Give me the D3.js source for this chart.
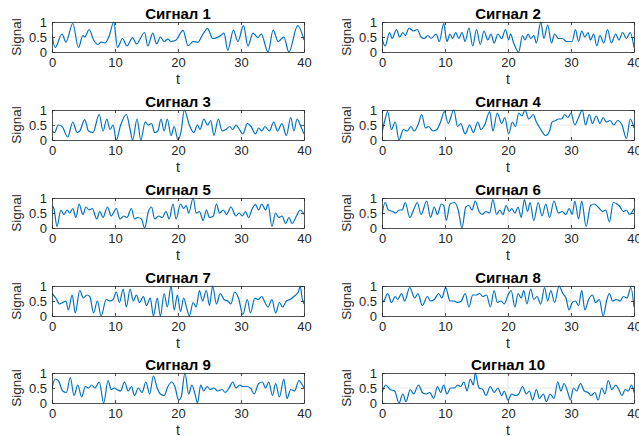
<!DOCTYPE html>
<html>
<head>
<meta charset="utf-8">
<script src="https://cdn.jsdelivr.net/npm/d3@7"></script>
<style>
  body { margin: 0; background: #fff; }
  svg { display: block; font-family: "Liberation Sans", Arial, sans-serif; }
</style>
</head>
<body>
<div id="general"></div>
<script>
const w = 639, h = 436;

const titles = ["Сигнал 1", "Сигнал 2", "Сигнал 3", "Сигнал 4", "Сигнал 5",
                "Сигнал 6", "Сигнал 7", "Сигнал 8", "Сигнал 9", "Сигнал 10"];
const xTicks = [0, 10, 20, 30, 40];
const yTicks = [0, 0.5, 1];
const yTickLabels = ["0", "0.5", "1"];

// [t, value] (peaks and troughs mostly)
const signal1 = [[0,0.57],[0.5,0.15],[1.6,0.6],[2.2,0.33],[3.3,0.95],[4.2,0.15],[4.9,0.55],[5.2,0.5],[5.9,0.75],[6.6,0.4],[7.3,0.25],[7.8,0.33],[8.4,0.3],[9.1,0.55],[9.8,1.0],[10.4,0.15],[11.2,0.45],[11.9,0.2],[12.8,0.48],[13.4,0.27],[14.7,0.65],[15.2,0.2],[16,0.63],[16.6,0.27],[17.2,0.5],[17.8,0.35],[18.4,0.43],[18.9,0.35],[19.7,0.4],[20.8,0.72],[21.6,0.2],[22.4,0.35],[23.2,0.33],[23.7,0.5],[24.7,0.78],[25.5,0.45],[26.2,0.48],[26.9,0.57],[27.3,0.63],[27.9,0.06],[28.8,0.73],[29.5,0.35],[30.4,0.88],[31.1,0.2],[31.9,0.63],[32.7,0.48],[33.2,0.6],[34.3,0.0],[35.1,0.73],[35.9,0.35],[36.8,0.5],[37.6,0.0],[39,0.88],[40,0.4]];
const signal2 = [[0,0.45],[0.5,0.2],[1.2,0.65],[1.6,0.45],[2.3,0.75],[2.8,0.5],[3.3,0.65],[3.7,0.55],[4.3,0.8],[5,0.7],[5.6,0.75],[6.2,0.5],[6.7,0.45],[7.3,0.55],[7.8,0.45],[8.6,0.6],[9.1,0.35],[9.8,0.95],[10.3,0.35],[10.8,0.6],[11.2,0.45],[11.7,0.65],[12.2,0.45],[12.7,0.65],[13.2,0.35],[13.8,0.8],[14.4,0.2],[15,0.75],[15.6,0.25],[16.2,0.7],[16.8,0.4],[17.3,0.6],[17.8,0.3],[18.4,0.6],[19,0.45],[19.6,0.75],[20.1,0.4],[20.4,0.6],[20.9,0.3],[21.7,0.0],[22.3,0.55],[22.7,0.4],[23.2,0.6],[23.6,0.45],[24.1,0.55],[24.5,0.3],[25.2,1.0],[25.7,0.45],[26.3,0.9],[26.9,0.3],[27.4,0.6],[28,0.45],[28.6,0.45],[29.3,0.35],[30.2,0.35],[30.7,0.75],[31.2,0.35],[31.7,0.7],[32.2,0.5],[32.7,0.65],[33.1,0.4],[33.6,0.6],[34.1,0.2],[34.6,0.55],[35.2,0.3],[35.8,0.75],[36.4,0.3],[37.1,0.6],[37.6,0.4],[38.2,0.65],[38.8,0.45],[39.4,0.65],[40,0.15]];
const signal3 = [[0,0.3],[0.4,0.25],[1,0.5],[1.6,0.45],[2.5,0.1],[3.3,0.6],[4,0.25],[4.4,0.3],[5.2,0.68],[5.8,0.3],[6.5,0.25],[7.5,0.85],[8.1,0.3],[8.7,0.7],[9.2,0.35],[9.7,0.5],[10.2,0.0],[10.9,0.5],[11.8,0.85],[12.4,0.35],[12.8,0.0],[13.5,0.7],[14.1,0.0],[14.8,0.6],[15.3,0.5],[15.8,0.55],[16.3,0.25],[16.8,0.3],[17.3,0.7],[17.8,0.3],[18.3,0.7],[18.9,0.15],[19.4,0.45],[20,0.0],[20.5,0.3],[21,1.0],[21.8,0.5],[22.5,0.25],[23.1,0.5],[23.5,0.35],[24.1,0.7],[24.7,0.5],[25.2,0.65],[25.7,0.15],[26.4,0.7],[27,0.3],[27.6,0.35],[28.2,0.45],[28.7,0.35],[29.2,0.5],[29.6,0.4],[30.3,0.2],[31,0.55],[31.6,0.45],[32.3,0.2],[32.8,0.4],[33.3,0.3],[33.8,0.45],[34.5,0.3],[35.2,0.6],[35.8,0.3],[36.5,0.55],[37.2,0.15],[37.9,0.75],[38.4,0.3],[38.9,0.7],[39.4,0.5],[40,0.2]];
const signal4 = [[0,0.25],[0.5,0.7],[0.9,0.95],[1.5,0.35],[2.1,0.6],[2.7,0.0],[3.4,0.35],[4,0.3],[4.6,0.45],[5.1,0.3],[5.8,0.55],[6.3,0.85],[6.9,0.4],[7.4,0.45],[8.1,0.3],[8.7,0.35],[9.3,0.6],[9.9,0.95],[10.5,0.55],[11.4,1.0],[12,0.45],[12.5,0.55],[13.2,0.2],[13.9,0.5],[14.5,0.25],[15.2,0.6],[15.7,0.35],[16.3,0.5],[17.1,0.95],[17.6,0.3],[18.3,0.9],[19,0.55],[19.5,0.75],[20.1,0.2],[20.7,0.6],[21.2,0.45],[21.7,0.9],[22.2,0.8],[22.7,1.0],[23.3,0.7],[24,0.85],[24.5,0.6],[25.2,0.35],[26,0.15],[26.6,0.3],[27,0.6],[27.6,0.65],[28,0.7],[28.5,0.7],[29,0.85],[29.5,0.75],[30,0.9],[30.6,0.5],[31.2,0.75],[31.8,1.0],[32.3,0.5],[32.9,0.85],[33.4,0.55],[34,0.8],[34.6,0.55],[35.1,0.75],[35.6,0.6],[36.2,0.65],[36.8,0.5],[37.4,0.65],[38.1,0.5],[38.8,0.05],[39.4,0.7],[40,0.4]];
const signal5 = [[0,0.75],[0.3,0.65],[0.8,0.05],[1.4,0.6],[1.9,0.45],[2.4,0.6],[2.8,0.5],[3.3,0.65],[3.8,0.35],[4.3,0.8],[4.9,0.45],[5.4,0.7],[5.9,0.6],[6.4,0.65],[7.1,0.3],[7.6,0.55],[8.1,0.35],[8.8,0.7],[9.4,0.4],[10.2,0.65],[10.8,0.3],[11.4,0.4],[11.9,0.35],[12.6,0.65],[13.1,0.3],[13.6,0.35],[14.2,0.3],[14.7,0.0],[15.3,0.55],[15.8,0.7],[16.3,0.3],[16.9,0.4],[17.5,0.35],[18.1,0.55],[18.6,0.3],[19.2,0.8],[19.7,0.3],[20.4,0.8],[20.9,0.65],[21.3,0.75],[21.7,0.5],[22.4,1.0],[22.9,0.5],[23.4,0.55],[24,0.25],[24.5,0.6],[25,0.35],[25.6,0.4],[26.1,0.8],[26.6,0.5],[27.2,0.6],[27.7,0.45],[28.4,0.7],[29.2,0.4],[29.7,0.5],[30.2,0.4],[30.7,0.55],[31.2,0.35],[31.8,0.65],[32.3,0.78],[32.8,0.6],[33.3,0.8],[33.9,0.6],[34.3,0.8],[34.9,0.05],[35.5,0.5],[36,0.35],[36.5,0.4],[37.1,0.15],[37.6,0.35],[38.1,0.15],[38.8,0.4],[39.4,0.6],[40,0.45]];
const signal6 = [[0,0.45],[0.5,0.85],[1,0.6],[1.7,0.55],[2.2,0.5],[2.7,0.6],[3.2,0.6],[3.7,0.85],[4.4,0.35],[5.1,0.65],[5.6,0.85],[6.2,0.45],[7.1,0.9],[7.7,0.35],[8.3,0.7],[8.8,0.45],[9.4,0.8],[9.8,0.75],[10.2,0.25],[10.8,0.8],[11.5,0.85],[12.1,0.6],[12.7,0.0],[13.3,0.7],[13.8,0.75],[14.3,0.6],[14.8,0.9],[15.4,0.55],[15.9,0.45],[16.5,0.55],[17.1,0.5],[17.6,0.95],[18.2,0.45],[18.7,0.6],[19.2,0.45],[19.7,0.75],[20.2,0.55],[20.6,0.65],[21.1,0.5],[21.6,0.7],[22.1,0.35],[22.6,0.95],[23.1,0.55],[23.5,0.85],[24.1,0.25],[24.8,0.85],[25.4,0.4],[26,0.8],[26.6,0.35],[27.3,0.9],[28,0.5],[28.6,0.55],[29.2,0.45],[29.7,0.65],[30.2,0.45],[30.6,0.9],[31.2,0.3],[31.7,0.9],[32.4,0.05],[33.1,0.75],[33.7,0.8],[34.3,0.7],[35,0.55],[35.5,0.6],[36.1,0.2],[36.7,0.85],[37.3,0.8],[37.8,0.7],[38.3,0.55],[38.8,0.6],[39.3,0.45],[40,0.65]];
const signal7 = [[0,0.75],[0.6,0.6],[1.2,0.4],[1.7,0.45],[2.2,0.5],[2.6,0.2],[3.2,0.7],[3.7,0.1],[4.4,0.85],[5,0.6],[5.5,0.7],[6,0.65],[6.6,0.1],[7.2,0.5],[7.8,0.0],[8.6,0.55],[9.2,0.5],[9.7,0.55],[10.2,0.8],[10.7,0.45],[11.3,0.9],[11.8,0.3],[12.4,0.9],[12.9,0.5],[13.4,0.7],[13.9,0.45],[14.5,0.65],[15,0.35],[15.6,0.6],[16.1,0.0],[16.7,0.6],[17.2,0.0],[17.8,0.75],[18.3,0.3],[18.9,1.0],[19.4,0.2],[19.9,0.7],[20.4,0.15],[20.9,0.6],[21.4,0.25],[21.8,0.0],[22.4,0.45],[22.9,0.3],[23.4,0.85],[23.9,0.5],[24.5,0.85],[25,0.35],[25.5,1.0],[26.1,0.4],[26.7,0.75],[27.3,0.55],[27.9,0.5],[28.4,0.4],[29,0.8],[29.6,0.6],[30.3,0.05],[31,0.55],[31.5,0.1],[32.2,0.6],[32.7,0.55],[33.3,0.65],[33.8,0.45],[34.3,0.3],[34.9,0.55],[35.5,0.1],[36.1,0.45],[36.6,0.3],[37.2,0.5],[37.8,0.55],[38.4,0.65],[39.1,0.8],[39.4,1.0],[39.7,0.6],[40,0.4]];
const signal8 = [[0,0.45],[0.3,0.5],[0.9,0.75],[1.5,0.45],[2.1,0.65],[2.5,0.55],[3.1,0.75],[3.6,0.5],[4.4,0.95],[5.2,0.6],[5.7,0.75],[6.4,0.35],[7.2,0.65],[7.7,0.5],[8.3,0.55],[9,0.75],[9.5,0.6],[10.1,0.95],[10.8,0.5],[11.4,0.5],[12,0.45],[12.6,0.5],[13.2,0.75],[13.8,0.3],[14.4,0.7],[15,0.7],[15.5,0.75],[16,0.65],[16.6,0.7],[17.2,0.3],[17.8,0.85],[18.3,0.45],[18.9,0.5],[19.4,0.4],[20,0.7],[20.5,0.85],[21.1,0.3],[21.6,0.75],[22.1,0.6],[22.5,0.85],[23,0.4],[23.6,0.9],[24.1,0.55],[24.6,0.65],[25.2,0.4],[25.8,0.95],[26.3,0.5],[26.8,0.85],[27.4,0.45],[28.1,1.0],[28.7,0.75],[29.2,0.6],[29.7,0.2],[30.2,0.45],[30.7,0.5],[31.2,0.35],[31.7,0.85],[32.2,0.2],[32.8,0.55],[33.4,0.7],[33.9,0.45],[34.5,0.55],[35.1,0.0],[35.7,0.55],[36.1,0.75],[36.6,0.5],[37.2,0.55],[37.8,0.5],[38.3,0.65],[38.9,0.6],[39.5,0.95],[40,0.3]];
const signal9 = [[0,0.5],[0.5,0.8],[1,0.75],[1.7,0.4],[2.3,0.35],[2.9,0.85],[3.5,0.25],[4.1,0.6],[4.7,0.2],[5.3,0.55],[5.8,0.5],[6.3,0.6],[6.8,0.5],[7.5,0.7],[8.2,0.0],[8.9,0.75],[9.4,0.45],[9.9,0.5],[10.3,0.45],[10.9,0.4],[11.5,0.7],[12.1,0.4],[12.6,0.55],[13.1,0.25],[13.7,0.5],[14.3,0.35],[14.9,0.7],[15.5,0.3],[16.1,0.9],[16.7,0.5],[17.2,0.3],[17.8,0.25],[18.4,0.55],[19,0.7],[19.5,0.55],[20.1,0.1],[20.5,0.2],[21.1,1.0],[21.7,0.3],[22.2,0.6],[22.7,0.3],[23.1,0.0],[23.6,0.6],[24.1,0.4],[24.6,0.55],[25.1,0.45],[25.7,0.5],[26.3,0.4],[27,0.45],[27.5,0.35],[28.1,0.5],[28.7,0.7],[29.2,0.5],[29.8,0.6],[30.3,0.55],[30.9,0.55],[31.5,0.5],[32.1,0.3],[32.8,0.65],[33.4,0.7],[33.9,0.5],[34.4,0.7],[35,0.25],[35.5,0.65],[36.1,0.2],[36.8,0.8],[37.3,0.15],[37.9,0.45],[38.5,0.4],[39.2,0.75],[39.6,0.65],[40,0.5]];
const signal10 = [[0,0.35],[0.6,0.6],[1.3,0.45],[2,0.4],[2.7,0.0],[3.3,0.3],[3.8,0.05],[4.5,0.45],[5,0.3],[5.8,0.6],[6.4,0.35],[7,0.3],[7.6,0.35],[8.2,0.15],[8.8,0.55],[9.3,0.35],[9.8,0.6],[10.3,0.3],[10.9,0.5],[11.5,0.5],[12,0.6],[12.5,0.55],[13,0.7],[13.5,0.4],[14,0.8],[14.5,0.6],[14.8,1.0],[15.4,0.5],[16,0.45],[16.5,0.25],[17.2,0.55],[17.8,0.35],[18.4,0.5],[19,0.25],[19.4,0.4],[20,0.1],[20.6,0.3],[21.2,0.25],[21.7,0.3],[22.3,0.55],[22.9,0.3],[23.4,0.4],[23.9,0.1],[24.5,0.45],[25,0.15],[25.6,0.3],[26.1,0.05],[26.7,0.3],[27.3,0.15],[27.9,0.7],[28.4,0.4],[28.9,0.65],[29.5,0.35],[29.9,0.1],[30.4,0.5],[30.9,0.4],[31.5,0.65],[32.1,0.4],[32.7,0.35],[33.2,0.25],[33.8,0.35],[34.3,0.1],[34.9,0.5],[35.4,0.3],[35.9,0.75],[36.5,0.45],[37.1,0.6],[37.6,0.45],[38.1,0.25],[38.6,0.45],[39.1,0.4],[39.6,0.6],[40,0.35]];

const signals = [signal1, signal2, signal3, signal4, signal5,
                 signal6, signal7, signal8, signal9, signal10];

// subplot grid, MATLAB-ish positions
const colX = [52, 382];
const axW = 252;
const rowY = [22, 110, 198, 286, 373];
const axH = 30;

const svg = d3.select("#general").append("svg")
  .attr("width", w)
  .attr("height", h)
  .attr("viewBox", [0, 0, w, h]);

signals.forEach((data, i) => {
  const col = i % 2, row = Math.floor(i / 2);
  const x = d3.scaleLinear().domain([0, 40]).range([0, axW]);
  const y = d3.scaleLinear().domain([0, 1]).range([axH, 0]);

  const g = svg.append("g").attr("transform", `translate(${colX[col]},${rowY[row]})`);

  // grid
  g.append("g")
    .attr("stroke", "#dfdfdf")
    .attr("stroke-width", 0.8)
    .selectAll("line")
    .data(xTicks.slice(1, -1))
    .join("line")
      .attr("x1", d => x(d)).attr("x2", d => x(d))
      .attr("y1", 0).attr("y2", axH);
  g.append("g")
    .attr("stroke", "#dfdfdf")
    .attr("stroke-width", 0.8)
    .selectAll("line")
    .data([0.5])
    .join("line")
      .attr("x1", 0).attr("x2", axW)
      .attr("y1", d => y(d)).attr("y2", d => y(d));

  const clipId = `clip${i}`;
  g.append("clipPath").attr("id", clipId)
    .append("rect").attr("x", 0).attr("y", -1).attr("width", axW).attr("height", axH + 2);

  const line = d3.line()
    .x(d => x(d[0]))
    .y(d => y(d[1]))
    .curve(d3.curveMonotoneX);

  g.append("path")
    .attr("clip-path", `url(#${clipId})`)
    .attr("d", line(data))
    .attr("fill", "none")
    .attr("stroke", "#0072BD")
    .attr("stroke-width", 1.2)
    .attr("stroke-linejoin", "round");

  // axes, ticks inside like matlab
  const xAxis = g.append("g")
    .attr("transform", `translate(0,${axH})`)
    .call(d3.axisBottom(x).tickValues(xTicks).tickSizeInner(-3).tickSizeOuter(0).tickPadding(6));
  const yAxis = g.append("g")
    .call(d3.axisLeft(y).tickValues(yTicks).tickFormat((d, k) => yTickLabels[k]).tickSizeInner(-3).tickSizeOuter(0).tickPadding(5));
  g.append("g")
    .call(d3.axisTop(x).tickValues(xTicks).tickSizeInner(-3).tickSizeOuter(0).tickFormat(""));
  g.append("g")
    .attr("transform", `translate(${axW},0)`)
    .call(d3.axisRight(y).tickValues(yTicks).tickSizeInner(-3).tickSizeOuter(0).tickFormat(""));

  g.selectAll(".domain, .tick line").attr("stroke", "#262626").attr("stroke-width", 0.8);
  g.selectAll(".tick text")
    .attr("fill", "#262626")
    .style("font-size", "13px")
    .style("font-family", "'Liberation Sans', Arial, sans-serif");
  xAxis.selectAll(".tick text").attr("dy", "0.71em");
  yAxis.selectAll(".tick text").attr("dy", "0.36em");

  g.append("text")
    .attr("x", axW / 2)
    .attr("y", -3)
    .attr("text-anchor", "middle")
    .style("font-size", "15px")
    .style("font-weight", "bold")
    .attr("fill", "#000")
    .text(titles[i]);

  g.append("text")
    .attr("x", axW / 2)
    .attr("y", axH + 32)
    .attr("text-anchor", "middle")
    .style("font-size", "14px")
    .attr("fill", "#262626")
    .text("t");

  g.append("text")
    .attr("transform", `translate(${-31},${axH / 2}) rotate(-90)`)
    .attr("text-anchor", "middle")
    .style("font-size", "13.5px")
    .attr("fill", "#262626")
    .text("Signal");
});
</script>
</body>
</html>
